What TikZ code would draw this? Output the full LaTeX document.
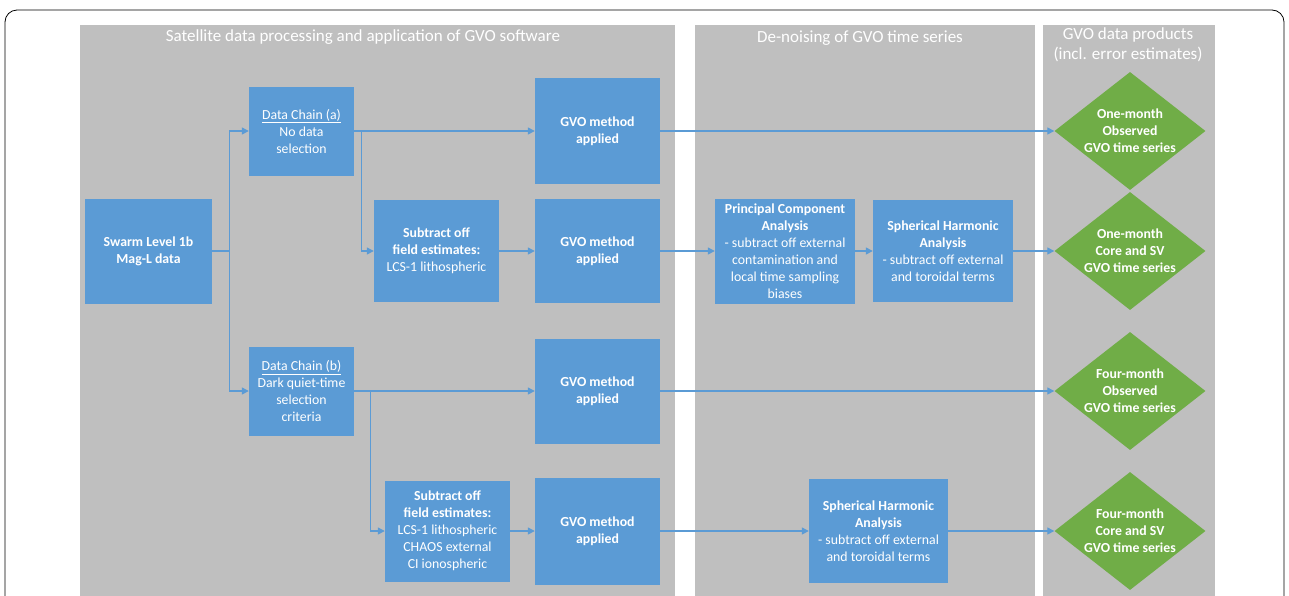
\documentclass[tikz,border=0pt]{standalone}
\usepackage{fontspec}
\setmainfont{Carlito}
\usetikzlibrary{shapes.geometric,arrows.meta}

\definecolor{boxblue}{HTML}{5B9BD5}
\definecolor{prodgreen}{HTML}{70AD47}
\definecolor{panelgray}{HTML}{BFBFBF}

\tikzset{
    procbox/.style={fill=boxblue, text=white, align=center, inner sep=2pt,
        font=\fontsize{13.8}{17}\selectfont},
    prodtext/.style={text=white, align=center, inner sep=0pt,
        font=\bfseries\fontsize{13.8}{17}\selectfont},
    product/.style={diamond, fill=prodgreen, inner sep=0pt,
        minimum width=151pt, minimum height=118pt,
        label={[prodtext]center:#1}},
    flow/.style={draw=boxblue, line width=1.3pt, -{Triangle[length=7pt,width=7pt]}},
    header/.style={text=white, align=center, font=\fontsize{17}{20}\selectfont}
}

\begin{document}
\begin{tikzpicture}[x=1pt, y=-1pt]
    \useasboundingbox (0,0) rectangle (1289,595);

    % outer frame and panels
    \draw[line width=0.8pt, rounded corners=12pt] (5,640) -- (5,10) -- (1284,10) -- (1284,640);
    \fill[panelgray] (80,25) rectangle (675,600);
    \fill[panelgray] (695,25) rectangle (1035,600);
    \fill[panelgray] (1043,25) rectangle (1215,600);

    \node[header] (hdrSat) at (363,37) {Satellite data processing and application of GVO software};
    \node[header] (hdrDen) at (860,38) {De-noising of GVO time series};
    \node[header] (hdrProd) at (1128,45) {GVO data products\\(incl. error estimates)};

    % processing boxes
    \node[procbox, minimum width=127pt, minimum height=105pt] (swarm) at (148.5,251)
        {\textbf{Swarm Level 1b}\\\textbf{Mag-L data}};
    \node[procbox, minimum width=105pt, minimum height=89pt] (chainA) at (301.5,131)
        {\underline{Data Chain (a)}\\No data\\selection};
    \node[procbox, minimum width=105pt, minimum height=89pt] (chainB) at (301.5,391)
        {\underline{Data Chain (b)}\\Dark quiet-time\\selection\\criteria};
    \node[procbox, minimum width=125pt, minimum height=102pt] (subA) at (436.5,251)
        {\textbf{Subtract off}\\\textbf{field estimates:}\\LCS-1 lithospheric};
    \node[procbox, minimum width=125pt, minimum height=101pt] (subB) at (447.5,531)
        {\textbf{Subtract off}\\\textbf{field estimates:}\\LCS-1 lithospheric\\CHAOS external\\CI ionospheric};
    \node[procbox, minimum width=125pt, minimum height=106pt] (gvoA1) at (597.5,131)
        {\textbf{GVO method}\\\textbf{applied}};
    \node[procbox, minimum width=125pt, minimum height=104pt] (gvoA2) at (597.5,251)
        {\textbf{GVO method}\\\textbf{applied}};
    \node[procbox, minimum width=125pt, minimum height=105pt] (gvoB1) at (597.5,391)
        {\textbf{GVO method}\\\textbf{applied}};
    \node[procbox, minimum width=125pt, minimum height=107pt] (gvoB2) at (597.5,531)
        {\textbf{GVO method}\\\textbf{applied}};
    \node[procbox, minimum width=140pt, minimum height=105pt] (pca) at (785,251)
        {\textbf{Principal Component}\\\textbf{Analysis}\\- subtract off external\\contamination and\\local time sampling\\biases};
    \node[procbox, minimum width=140pt, minimum height=102pt] (shaA) at (943,251)
        {\textbf{Spherical Harmonic}\\\textbf{Analysis}\\- subtract off external\\and toroidal terms};
    \node[procbox, minimum width=139pt, minimum height=104pt] (shaB) at (878.5,531)
        {\textbf{Spherical Harmonic}\\\textbf{Analysis}\\- subtract off external\\and toroidal terms};

    % data products
    \node[product={One-month\\Observed\\GVO time series}] (prodA1) at (1130,131) {};
    \node[product={One-month\\Core and SV\\GVO time series}] (prodA2) at (1130,251) {};
    \node[product={Four-month\\Observed\\GVO time series}] (prodB1) at (1130,391) {};
    \node[product={Four-month\\Core and SV\\GVO time series}] (prodB2) at (1130,531) {};

    % connectors
    \draw[flow] (swarm.east) -- ++(17,0) |- (chainA.west);
    \draw[flow] (swarm.east) -- ++(17,0) |- (chainB.west);
    \draw[flow] (chainA.east) -- (gvoA1.west);
    \draw[flow] ([xshift=7pt]chainA.east) |- (subA.west);
    \draw[flow] (subA) -- (gvoA2);
    \draw[flow] (chainB.east) -- (gvoB1.west);
    \draw[flow] ([xshift=16pt]chainB.east) |- (subB.west);
    \draw[flow] (subB) -- (gvoB2);
    \draw[flow] (gvoA1) -- (prodA1);
    \draw[flow] (gvoA2) -- (pca);
    \draw[flow] (pca) -- (shaA);
    \draw[flow] (shaA) -- (prodA2);
    \draw[flow] (gvoB1) -- (prodB1);
    \draw[flow] (gvoB2) -- (shaB);
    \draw[flow] (shaB) -- (prodB2);
\end{tikzpicture}
\end{document}
